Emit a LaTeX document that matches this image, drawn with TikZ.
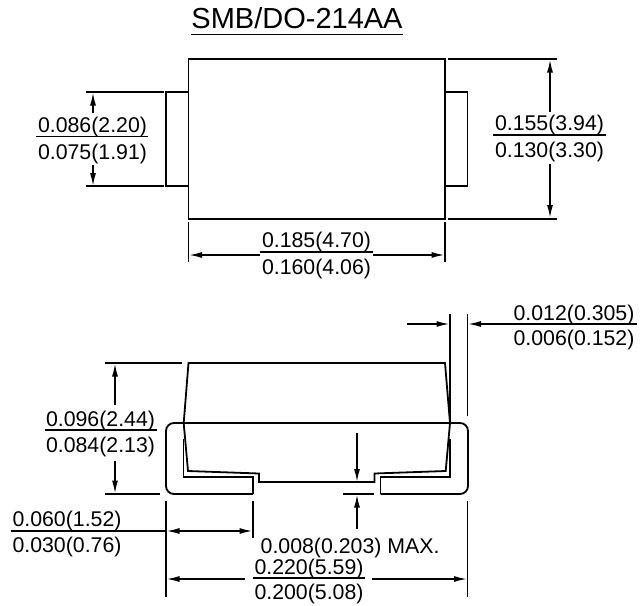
\documentclass[tikz,border=0pt]{standalone}
\usepackage{fontspec}
\setmainfont{Liberation Sans}
\usetikzlibrary{arrows.meta}
\tikzset{
  part/.style={line width=1.8pt, line join=miter},
  rule/.style={line width=1.8pt},
  dimarrow/.style={line width=1.6pt, -{Latex[length=13pt,width=6pt]}},
  dimtext/.style={anchor=base, inner sep=0pt, font=\fontsize{21.3}{21.3}\selectfont},
}

\begin{document}
\begin{tikzpicture}[x=1pt,y=-1pt]
   \useasboundingbox (0,0) rectangle (644,605);
   % title
   \node[anchor=base, inner sep=0pt, font=\fontsize{29}{29}\selectfont] (title) at (297,28) {SMB/DO-214AA};
   \draw[rule] (191,34.5) -- (402.5,34.5);

   % top view
   \draw[part] (188.5,59) rectangle (445,218.7);
   \draw[part] (188.5,92) -- (166,92) -- (166,186) -- (188.5,186);
   \draw[part] (445,92) -- (467.5,92) -- (467.5,186) -- (445,186);
   \draw[rule] ( 86,92) -- (163.5,92);
   \draw[rule] ( 86,186) -- (163.5,186);
   \draw[rule] (448,59) -- (557,59);
   \draw[rule] (448,218.7) -- (557,218.7);
   \draw[rule] (188.5,221.5) -- (188.5,262);
   \draw[rule] (445,221.5) -- (445,262);

   \coordinate (tabup) at (93,113);
   \coordinate (tabtop) at (93,92.5);
   \coordinate (tabdn) at (93,165);
   \coordinate (tabbot) at (93,186);
   \draw[dimarrow] (tabup) -- (tabtop);
   \draw[dimarrow] (tabdn) -- (tabbot);
   \coordinate (bodyup) at (550,112);
   \coordinate (bodytop) at (550,59.5);
   \coordinate (bodydn) at (550,164);
   \coordinate (bodybot) at (550,218);
   \draw[dimarrow] (bodyup) -- (bodytop);
   \draw[dimarrow] (bodydn) -- (bodybot);
   \coordinate (widthl) at (260,255);
   \coordinate (widthlend) at (189,255);
   \coordinate (widthr) at (373,255);
   \coordinate (widthrend) at (444.5,255);
   \draw[dimarrow] (widthl) -- (widthlend);
   \draw[dimarrow] (widthr) -- (widthrend);

   \node[dimtext] (tabhi) at (92.5,132.5) {0.086(2.20)};
   \node[dimtext] (tablo) at (92.5,159.5) {0.075(1.91)};
   \draw[rule] (36,136.5) -- (148,136.5);
   \node[dimtext] (bodyhi) at (549.5,130.5) {0.155(3.94)};
   \node[dimtext] (bodylo) at (549.5,157) {0.130(3.30)};
   \draw[rule] (493,135) -- (606,135);
   \node[dimtext] (widthhi) at (316.5,247.5) {0.185(4.70)};
   \node[dimtext] (widthlo) at (316.5,274) {0.160(4.06)};
   \draw[rule] (260,252) -- (373,252);

   % side view, body
   \draw[part] (188.5,363) -- (445,363) -- (450,423) -- (445.7,471) -- (374.5,473.5)
      -- (374.5,482) -- (259,482) -- (259,473.5) -- (188,471) -- (183.7,423) -- cycle;
   % side view, leads
   \draw[part, rounded corners=8pt] (253,494) -- (166,494) -- (166,423) -- (468,423) -- (468,494) -- (380.5,494);
   \draw[part] (183.5,439) -- (183.5,477) -- (253,477) -- (253,494);
   \draw[part] (450,439) -- (450,477) -- (380.5,477) -- (380.5,494);

   \draw[rule] (105,363) -- (182,363);
   \draw[rule] (105,494) -- (159.5,494);
   \draw[rule] (450,314) -- (450,423);
   \draw[rule] (467.5,314) -- (467.5,416);
   \draw[rule] (166,501) -- (166,597);
   \draw[rule] (253,501) -- (253,538);
   \draw[rule] (467.5,501) -- (467.5,597);
   \draw[rule] (343,494) -- (374,494);

   \coordinate (leadl) at (407,324);
   \coordinate (leadlend) at (449.5,324);
   \coordinate (leadr) at (511,324);
   \coordinate (leadrend) at (468,324);
   \draw[dimarrow] (leadl) -- (leadlend);
   \draw[dimarrow] (leadr) -- (leadrend);
   \coordinate (heightup) at (115,405);
   \coordinate (heighttop) at (115,363.5);
   \coordinate (heightdn) at (115,461);
   \coordinate (heightbot) at (115,493.5);
   \draw[dimarrow] (heightup) -- (heighttop);
   \draw[dimarrow] (heightdn) -- (heightbot);
   \coordinate (footmid) at (205,531);
   \coordinate (footl) at (166.5,531);
   \coordinate (footr) at (252.5,531);
   \draw[dimarrow] (footmid) -- (footl);
   \draw[dimarrow] (footmid) -- (footr);
   \coordinate (gapup) at (357,433);
   \coordinate (gaptop) at (357,482);
   \coordinate (gapdn) at (357,529);
   \coordinate (gapbot) at (357,494.5);
   \draw[dimarrow] (gapup) -- (gaptop);
   \draw[dimarrow] (gapdn) -- (gapbot);
   \coordinate (overl) at (245,579);
   \coordinate (overlend) at (166.5,579);
   \coordinate (overr) at (372,579);
   \coordinate (overrend) at (467,579);
   \draw[dimarrow] (overl) -- (overlend);
   \draw[dimarrow] (overr) -- (overrend);

   \node[dimtext] (leadhi) at (574,320) {0.012(0.305)};
   \node[dimtext] (leadlo) at (574,345) {0.006(0.152)};
   \draw[rule] (511,324) -- (636.5,324);
   \node[dimtext] (heighthi) at (100.5,426) {0.096(2.44)};
   \node[dimtext] (heightlo) at (100.5,452.5) {0.084(2.13)};
   \draw[rule] (45,430) -- (156.5,430);
   \node[dimtext] (foothi) at (67,526.5) {0.060(1.52)};
   \node[dimtext] (footlo) at (67,552) {0.030(0.76)};
   \draw[rule] (10.5,531) -- (166,531);
   \node[dimtext, anchor=base west] (gap) at (260.5,553) {0.008(0.203) MAX.};
   \node[dimtext] (overhi) at (309,574) {0.220(5.59)};
   \node[dimtext] (overlo) at (309,599) {0.200(5.08)};
   \draw[rule] (252.5,578) -- (365,578);
\end{tikzpicture}
\end{document}
